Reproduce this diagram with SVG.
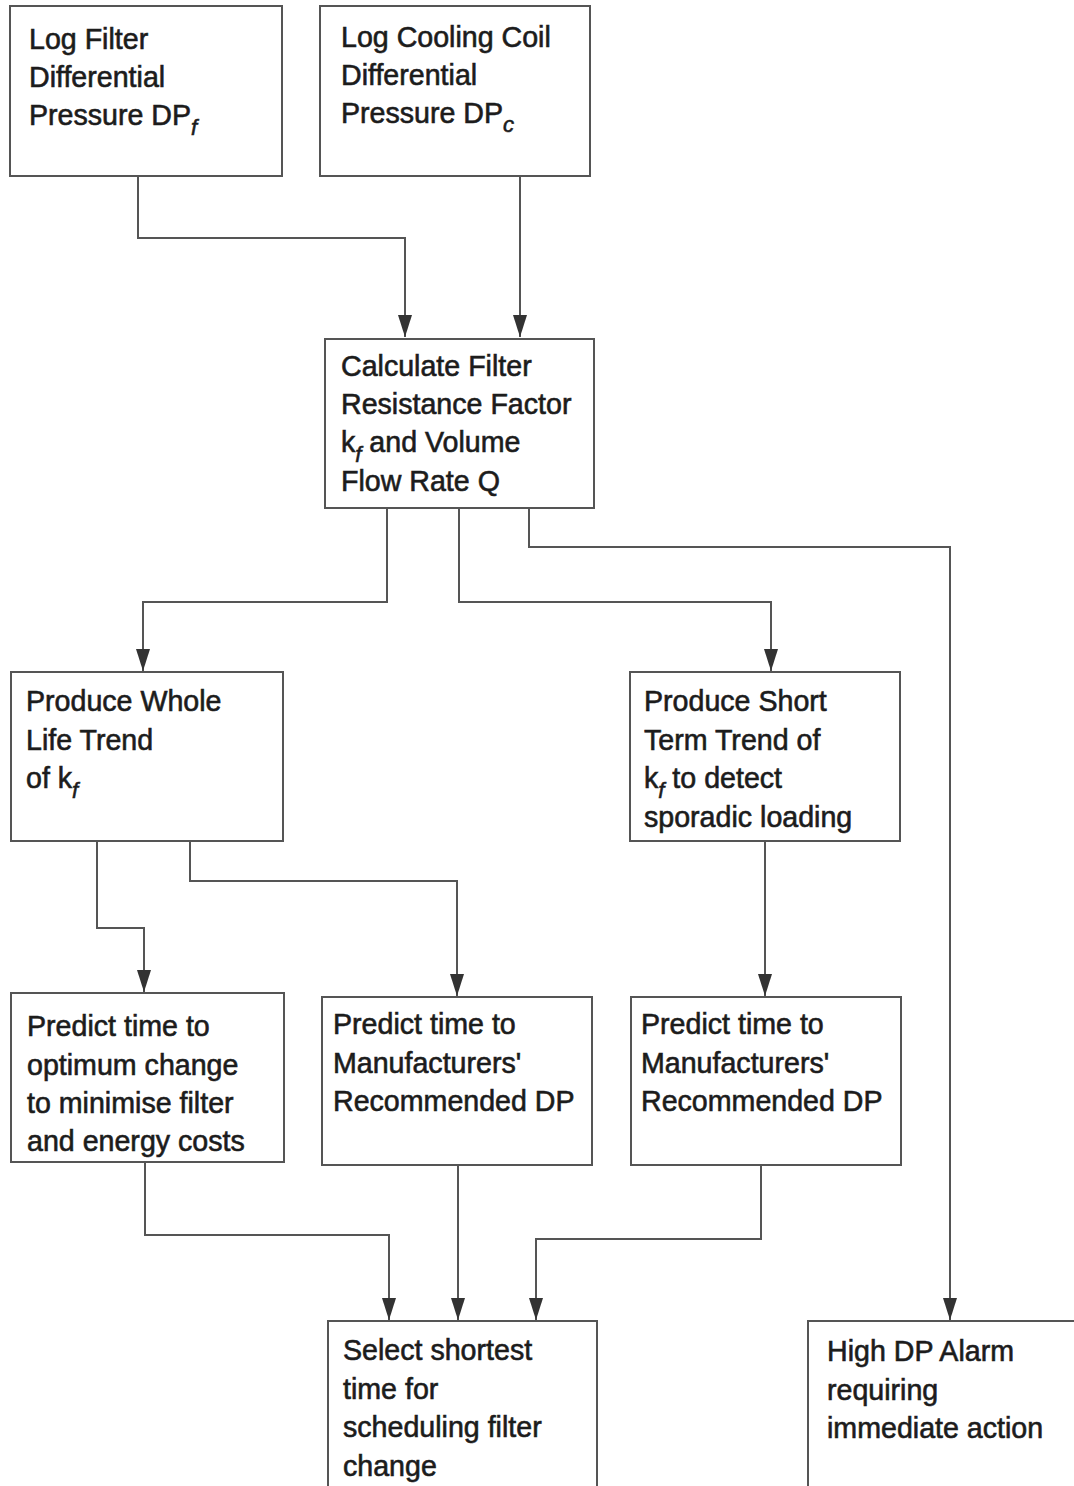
<svg xmlns="http://www.w3.org/2000/svg" width="1074" height="1486" viewBox="0 0 1074 1486">
<style>
.box{fill:#fff;stroke:#555;stroke-width:2}
.t{font-family:"Liberation Sans",Arial,Helvetica,sans-serif;font-size:28.6px;fill:#1c1c1c;stroke:#1c1c1c;stroke-width:0.6}
.s{font-style:italic;font-size:22px}
.c{fill:none;stroke:#555;stroke-width:2}
</style>
<defs>
<marker id="a" markerUnits="userSpaceOnUse" markerWidth="22" markerHeight="14" refX="22" refY="7" orient="auto" viewBox="0 0 22 14">
<path d="M0,0 L22,7 L0,14 Z" fill="#333"/>
</marker>
</defs>
<rect width="1074" height="1486" fill="#fff"/>
<g id="connectors">
<path class="c" d="M138,176 V238 H405 V337" marker-end="url(#a)"/>
<path class="c" d="M520,176 V337" marker-end="url(#a)"/>
<path class="c" d="M387,508 V602 H143 V671" marker-end="url(#a)"/>
<path class="c" d="M459,508 V602 H771 V671" marker-end="url(#a)"/>
<path class="c" d="M529,508 V547 H950 V1320" marker-end="url(#a)"/>
<path class="c" d="M97,841 V928 H144 V992" marker-end="url(#a)"/>
<path class="c" d="M190,841 V881 H457 V996" marker-end="url(#a)"/>
<path class="c" d="M765,841 V996" marker-end="url(#a)"/>
<path class="c" d="M145,1162 V1235 H389 V1320" marker-end="url(#a)"/>
<path class="c" d="M458,1165 V1320" marker-end="url(#a)"/>
<path class="c" d="M761,1165 V1239 H536 V1320" marker-end="url(#a)"/>
</g>
<g id="n1">
<rect class="box" x="10" y="6" width="272" height="170"/>
<text class="t" x="29" y="49">Log Filter</text>
<text class="t" x="29" y="87">Differential</text>
<text class="t" x="29" y="125">Pressure DP<tspan class="s" dy="10">f</tspan></text>
</g>
<g id="n2">
<rect class="box" x="320" y="6" width="270" height="170"/>
<text class="t" x="341" y="47">Log Cooling Coil</text>
<text class="t" x="341" y="85">Differential</text>
<text class="t" x="341" y="123">Pressure DP<tspan class="s" dy="9">c</tspan></text>
</g>
<g id="n3">
<rect class="box" x="325" y="339" width="269" height="169"/>
<text class="t" x="341" y="376">Calculate Filter</text>
<text class="t" x="341" y="414">Resistance Factor</text>
<text class="t" x="341" y="452">k<tspan class="s" dy="10">f</tspan><tspan dy="-10"> and Volume</tspan></text>
<text class="t" x="341" y="491">Flow Rate Q</text>
</g>
<g id="n4">
<rect class="box" x="11" y="672" width="272" height="169"/>
<text class="t" x="26" y="711">Produce Whole</text>
<text class="t" x="26" y="750">Life Trend</text>
<text class="t" x="26" y="788">of k<tspan class="s" dy="10">f</tspan></text>
</g>
<g id="n5">
<rect class="box" x="630" y="672" width="270" height="169"/>
<text class="t" x="644" y="711">Produce Short</text>
<text class="t" x="644" y="750">Term Trend of</text>
<text class="t" x="644" y="788">k<tspan class="s" dy="10">f</tspan><tspan dy="-10"> to detect</tspan></text>
<text class="t" x="644" y="827">sporadic loading</text>
</g>
<g id="n6">
<rect class="box" x="11" y="993" width="273" height="169"/>
<text class="t" x="27" y="1036">Predict time to</text>
<text class="t" x="27" y="1075">optimum change</text>
<text class="t" x="27" y="1113">to minimise filter</text>
<text class="t" x="27" y="1151">and energy costs</text>
</g>
<g id="n7">
<rect class="box" x="322" y="997" width="270" height="168"/>
<text class="t" x="333" y="1034">Predict time to</text>
<text class="t" x="333" y="1073">Manufacturers'</text>
<text class="t" x="333" y="1111">Recommended DP</text>
</g>
<g id="n8">
<rect class="box" x="631" y="997" width="270" height="168"/>
<text class="t" x="641" y="1034">Predict time to</text>
<text class="t" x="641" y="1073">Manufacturers'</text>
<text class="t" x="641" y="1111">Recommended DP</text>
</g>
<g id="n9">
<rect class="box" x="328" y="1321" width="269" height="180"/>
<text class="t" x="343" y="1360">Select shortest</text>
<text class="t" x="343" y="1399">time for</text>
<text class="t" x="343" y="1437">scheduling filter</text>
<text class="t" x="343" y="1476">change</text>
</g>
<g id="n10">
<rect class="box" x="808" y="1321" width="280" height="180"/>
<text class="t" x="827" y="1361">High DP Alarm</text>
<text class="t" x="827" y="1400">requiring</text>
<text class="t" x="827" y="1438">immediate action</text>
</g>
</svg>
